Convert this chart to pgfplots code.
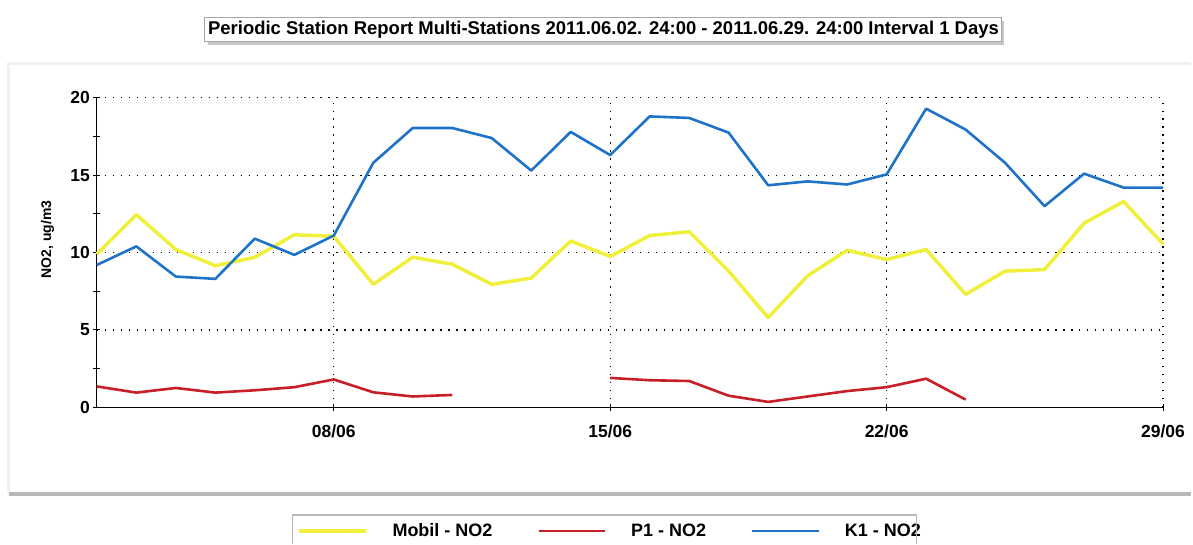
\documentclass[border=0pt]{standalone}
\usepackage{fontspec}
\setmainfont{Liberation Sans}
\usepackage{pgfplots}
\pgfplotsset{compat=1.18}
\definecolor{cyel}{RGB}{240,240,60}
\definecolor{cred}{RGB}{200,30,40}
\definecolor{cblue}{RGB}{30,115,200}
\begin{document}
\begin{tikzpicture}
\begin{axis}[
  at={(0,0)}, anchor=south west, scale only axis,
  width=1068pt, height=310pt,
  xmin=2, xmax=29, ymin=0, ymax=20,
  axis x line*=bottom, axis y line*=left,
  axis line style={black, line width=1.2pt, -},
  xtick={8,15,22,29}, xticklabels={08/06,15/06,22/06,29/06},
  ytick={0,5,10,15,20}, yticklabels={0,5,10,15,20},
  minor ytick={2.5,7.5,12.5,17.5},
  tick align=center, major tick length=7pt, minor tick length=7pt,
  every tick/.style={black, line width=1pt},
  grid=major,
  major grid style={black, line width=1.3pt, dash pattern=on 1.3pt off 6.7pt},
  ticklabel style={font=\bfseries\fontsize{17.5}{19}\selectfont},
  xticklabel style={yshift=-11pt},
  ylabel={NO2, ug/m3},
  ylabel style={font=\bfseries\fontsize{14}{15}\selectfont, at={(axis description cs:-0.0463,0.542)}, anchor=center},
  unbounded coords=jump,
  legend columns=3,
  legend style={at={(axis description cs:0.1882,-0.40)}, anchor=west, draw=none, fill=none,
    inner sep=0pt, nodes={inner sep=0pt},
    font=\bfseries\fontsize{18}{20}\selectfont,
    /tikz/every even column/.append style={column sep=45pt},
    /tikz/every odd column/.append style={column sep=24.5pt}},
  legend image code/.code={\draw[#1] (0pt,0pt) -- (67pt,0pt);},
  clip=false,
]
\addplot[cyel, line width=3.5pt, line join=round] coordinates {
(2,9.9) (3,12.45) (4,10.2) (5,9.15) (6,9.7) (7,11.15) (8,11.05) (9,7.95) (10,9.7) (11,9.25)
(12,7.95) (13,8.35) (14,10.75) (15,9.75) (16,11.1) (17,11.35) (18,8.8) (19,5.8) (20,8.5)
(21,10.15) (22,9.55) (23,10.2) (24,7.3) (25,8.8) (26,8.9) (27,11.9) (28,13.3) (29,10.55)};
\addlegendentry{Mobil - NO2}
\addplot[cred, line width=2.6pt, line join=round] coordinates {
(2,1.35) (3,0.95) (4,1.25) (5,0.95) (6,1.1) (7,1.3) (8,1.8) (9,0.97) (10,0.7) (11,0.8)
(12,nan)
(15,1.9) (16,1.75) (17,1.7) (18,0.75) (19,0.35) (20,0.7) (21,1.05) (22,1.3) (23,1.85) (24,0.5)};
\addlegendentry{P1 - NO2}
\addplot[cblue, line width=2.6pt, line join=round] coordinates {
(2,9.2) (3,10.4) (4,8.45) (5,8.3) (6,10.9) (7,9.85) (8,11.1) (9,15.8) (10,18.05) (11,18.05)
(12,17.4) (13,15.3) (14,17.8) (15,16.3) (16,18.8) (17,18.7) (18,17.75) (19,14.35) (20,14.6)
(21,14.4) (22,15.05) (23,19.3) (24,17.95) (25,15.8) (26,13.0) (27,15.1) (28,14.2) (29,14.2)};
\addlegendentry{K1 - NO2}
\coordinate (O) at (rel axis cs:0,0);
\end{axis}
\path (O) ++(-97pt,-137pt) coordinate (P);
\begin{scope}[shift={(P)}, x=1pt, y=1pt]
% outer panel
\draw[gray!12, line width=3pt] (9,50) -- (9,481) -- (1193,481);
\draw[gray!55, line width=4pt] (9,50) -- (1193,50);
% title box
\fill[gray!45] (208,500) rectangle (1006,524);
\filldraw[fill=white, draw=gray!70, line width=1pt] (205,503) rectangle (1003,527);
\node[font=\bfseries\fontsize{18.5}{20}\selectfont] at (604.5,515) {Periodic Station Report Multi-Stations 2011.06.02. 24:00 - 2011.06.29. 24:00 Interval 1 Days};
% legend frame
\draw[gray!55, line width=1.5pt] (293,0) -- (293,29) -- (918,29) -- (918,0);
\useasboundingbox (0,0) rectangle (1193,545);
\end{scope}
\end{tikzpicture}
\end{document}
